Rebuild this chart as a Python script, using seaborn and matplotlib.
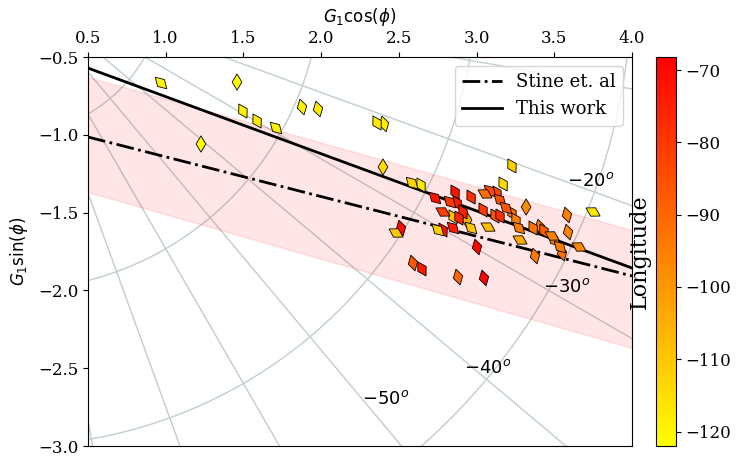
import numpy as np
import pandas as pd
import seaborn as sns
import matplotlib.pyplot as plt
from matplotlib.markers import MarkerStyle
from matplotlib.transforms import Affine2D
from matplotlib.colors import Normalize
from matplotlib.cm import ScalarMappable

plt.rcParams['font.family'] = 'DejaVu Serif'
plt.rcParams['mathtext.fontset'] = 'dejavusans'

# Phasor coordinates of each site, its longitude and the tilt of its marker
g_cos = [0.970, 1.459, 1.497, 1.588, 1.710, 1.877, 1.980, 2.360, 2.405, 1.227,
         2.398, 3.750, 3.228, 3.171,
         2.585, 2.643, 2.514, 2.482, 2.733, 2.862, 2.965, 2.829, 2.875, 2.784,
         2.913, 2.849, 2.887, 2.939, 2.965, 2.752, 2.784, 2.849, 3.003, 3.042,
         3.055, 3.087, 3.132, 3.151, 3.190, 3.228, 3.119, 3.151, 3.254, 3.273,
         3.074, 3.319, 3.280, 3.364, 3.408, 3.434, 3.486, 3.499, 3.537, 3.550,
         3.376, 3.582, 3.589, 3.660, 2.591, 2.649, 2.881, 3.048]
g_sin = [-0.667, -0.661, -0.847, -0.911, -0.956, -0.821, -0.834, -0.924, -0.930, -1.059,
         -1.207, -1.496, -1.200, -1.316,
         -1.310, -1.323, -1.599, -1.631, -1.406, -1.368, -1.400, -1.432, -1.438, -1.496,
         -1.496, -1.528, -1.535, -1.548, -1.599, -1.612, -1.612, -1.599, -1.721, -1.483,
         -1.380, -1.361, -1.374, -1.419, -1.470, -1.503, -1.522, -1.522, -1.548, -1.599,
         -1.593, -1.464, -1.676, -1.599, -1.593, -1.618, -1.650, -1.676, -1.721, -1.760,
         -1.779, -1.515, -1.625, -1.721, -1.824, -1.862, -1.914, -1.920]
longitude = [-120, -121, -119, -118, -119, -120, -118, -117, -119, -122,
             -114, -118, -112, -114,
             -113, -117, -70, -110, -72, -72, -78, -80, -74, -82,
             -75, -110, -76, -106, -110, -112, -72, -74, -70, -80,
             -92, -84, -82, -85, -86, -92, -86, -78, -95, -94,
             -108, -98, -104, -92, -94, -88, -95, -96, -94, -92,
             -94, -95, -96, -96, -86, -74, -90, -69]
tilt = [45, 0, 30, 30, 45, 15, 15, 30, 15, 0,
        0, 60, 30, 30,
        45, 30, 15, 60, 45, 30, 30, 45, 30, 60,
        30, 30, 30, 0, 45, 45, 30, 45, 15, 30,
        60, 45, 30, 45, 45, 30, 30, 30, 30, 45,
        60, 0, 60, 30, 15, 30, 60, 45, 45, 15,
        15, 15, 15, 60, 15, 30, 15, 15]

# Fitted lines and the band around them
fit_x = [0.5, 4.0]
stine_y = [-1.014, -1.907]
this_work_y = [-0.571, -1.856]
band_upper = [-0.628, -1.612]
band_lower = [-1.368, -2.370]

# Polar grid
radii = [1, 2, 3, 4, 5]
grid_angles = [-10, -20, -30, -40, -50, -60, -70, -80]
angle_names = ['$-20^o$', '$-30^o$', '$-40^o$', '$-50^o$']
angle_pos = [(3.58, -1.30), (3.43, -1.98), (2.92, -2.50), (2.26, -2.70)]

df = pd.DataFrame({'gcos': g_cos, 'gsin': g_sin, 'lon': longitude, 'tilt': tilt})
norm = Normalize(vmin=-122, vmax=-68.2)

fig = plt.figure(figsize=(7.38, 4.58), dpi=100)
ax = fig.add_axes([0.1192, 0.0262, 0.7371, 0.8493])
cax = fig.add_axes([0.8889, 0.0262, 0.0271, 0.8493])

grid_kw = dict(color='#bfcfcd', lw=1, zorder=0)
th = np.linspace(-np.pi / 2, 0, 300)
for r in radii:
    ax.plot(r * np.cos(th), r * np.sin(th), **grid_kw)
for a in grid_angles:
    ar = np.deg2rad(a)
    ax.plot([0, 8 * np.cos(ar)], [0, 8 * np.sin(ar)], **grid_kw)
for name, (tx, ty) in zip(angle_names, angle_pos):
    ax.text(tx, ty, name, fontsize=13, ha='left', va='center')

ax.fill_between(fit_x, band_lower, band_upper, color='red', alpha=0.1, zorder=1)
sns.lineplot(x=fit_x, y=stine_y, ax=ax, color='black', lw=2, ls='-.',
             label='Stine et. al', zorder=2)
sns.lineplot(x=fit_x, y=this_work_y, ax=ax, color='black', lw=2,
             label='This work', zorder=2)

for t in sorted(df['tilt'].unique()):
    sub = df[df['tilt'] == t]
    mk = MarkerStyle('d', transform=Affine2D().rotate_deg(t))
    sns.scatterplot(data=sub, x='gcos', y='gsin', hue='lon', palette='autumn_r',
                    hue_norm=norm, marker=mk, s=68, edgecolor='black',
                    linewidth=0.6, legend=False, ax=ax, zorder=3)

ax.set_xlim(0.5, 4.0)
ax.set_ylim(-3.0, -0.5)
ax.xaxis.tick_top()
ax.xaxis.set_label_position('top')
ax.set_xlabel(r'$G_1\cos(\phi)$', fontsize=12, labelpad=6)
ax.set_ylabel(r'$G_1\sin(\phi)$', fontsize=12, labelpad=6)
ax.tick_params(labelsize=12)
ax.legend(loc='upper right', fontsize=13, handlelength=2.2)

cb = fig.colorbar(ScalarMappable(norm=norm, cmap='autumn_r'), cax=cax)
cb.set_ticks([-70, -80, -90, -100, -110, -120])
cb.ax.tick_params(labelsize=12)
cb.ax.yaxis.set_label_position('left')
cb.set_label('Longitude', fontsize=16)

plt.savefig('out.png', dpi=100)
